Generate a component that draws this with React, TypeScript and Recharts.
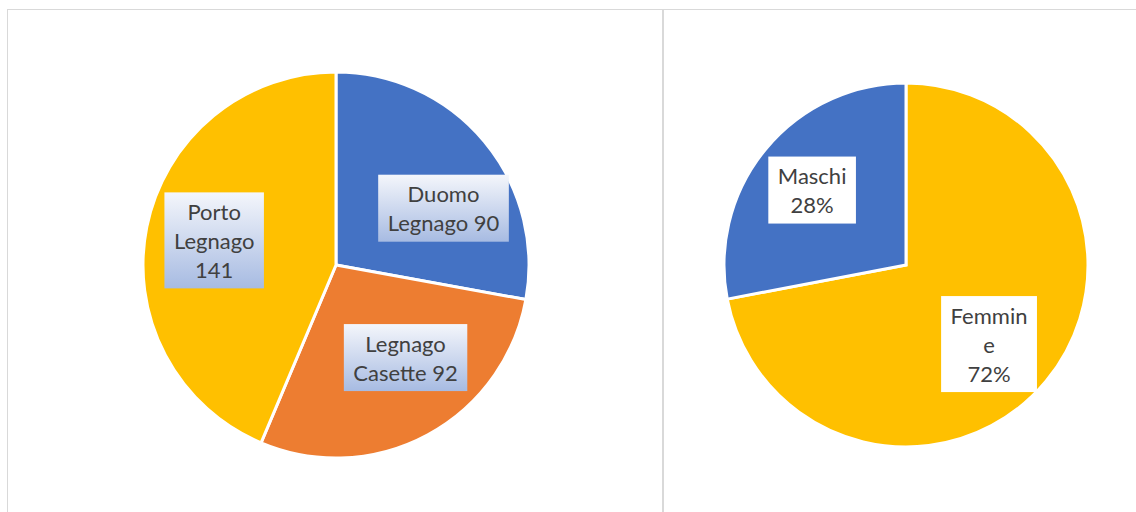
import React from "react";
import { PieChart, Pie, Cell } from "recharts";

const parishNames = ["Duomo Legnago", "Legnago Casette", "Porto Legnago"];
const parishValues = [90, 92, 141];
const parishLabelLines = [["Duomo", "Legnago 90"], ["Legnago", "Casette 92"], ["Porto", "Legnago", "141"]];
const parishColors = ["#4472C4", "#ED7D31", "#FFC000"];

const genderNames = ["Femmine", "Maschi"];
const genderValues = [72, 28];
const genderLabelLines = [["Femmin", "e", "72%"], ["Maschi", "28%"]];
const genderColors = ["#FFC000", "#4472C4"];

const FONT = "Lato, 'Open Sans', sans-serif";
const FONT_SIZE = 22;
const LINE_H = 29;

let ctx: CanvasRenderingContext2D | null = null;
function textWidth(s: string) {
  if (!ctx) {
    const c = document.createElement("canvas");
    ctx = c.getContext("2d");
  }
  if (!ctx) return s.length * 11;
  ctx.font = `${FONT_SIZE}px Lato`;
  return ctx.measureText(s).width;
}

const RAD = Math.PI / 180;

function makeLabel(lines: string[][], gradient: boolean, radiusFactor: number[], angleNudge: number[]) {
  return (props: any) => {
    const { cx, cy, midAngle, outerRadius, index } = props;
    const a = (midAngle + (angleNudge[index] || 0)) * RAD;
    const r = outerRadius * radiusFactor[index];
    const x = cx + r * Math.cos(a);
    const y = cy - r * Math.sin(a);
    const ls = lines[index];
    const w = Math.max(...ls.map(textWidth)) + 19;
    const h = ls.length * LINE_H + 9;
    return (
      <g key={`lbl-${index}`}>
        <rect
          x={x - w / 2}
          y={y - h / 2}
          width={w}
          height={h}
          fill={gradient ? "url(#lblGrad)" : "#ffffff"}
        />
        {ls.map((t, i) => (
          <text
            key={i}
            x={x}
            y={y - h / 2 + 4.5 + LINE_H * i + LINE_H / 2}
            textAnchor="middle"
            dominantBaseline="central"
            fontFamily={FONT}
            fontSize={FONT_SIZE}
            fill="#404040"
          >
            {t}
          </text>
        ))}
      </g>
    );
  };
}

const parishData = parishNames.map((n, i) => ({ name: n, value: parishValues[i] }));
const genderData = genderNames.map((n, i) => ({ name: n, value: genderValues[i] }));
const noMargin = { top: 0, right: 0, bottom: 0, left: 0 };

export default function App() {
  return (
    <div style={{ position: "fixed", left: 0, top: 0, width: 1136, height: 512, background: "#fff", overflow: "hidden" }}>
      <div
        style={{
          position: "absolute",
          left: 7,
          top: 9,
          width: 657,
          height: 520,
          borderTop: "1px solid #d9d9d9",
          borderLeft: "1px solid #d9d9d9",
          borderRight: "2px solid #d9d9d9",
          boxSizing: "border-box",
        }}
      >
        <PieChart width={652} height={510} margin={noMargin} style={{ position: "absolute", left: 0, top: 0 }}>
          <defs>
            <linearGradient id="lblGrad" x1="0" y1="0" x2="0" y2="1">
              <stop offset="0%" stopColor="#f4f6fb" />
              <stop offset="100%" stopColor="#a7bbe2" />
            </linearGradient>
          </defs>
          <Pie
            data={parishData}
            dataKey="value"
            nameKey="name"
            cx={328}
            cy={255}
            outerRadius={193}
            startAngle={90}
            endAngle={-270}
            stroke="#ffffff"
            strokeWidth={3}
            isAnimationActive={false}
            labelLine={false}
            label={makeLabel(parishLabelLines, true, [0.63, 0.6, 0.644], [-12, 8.5, 0])}
          >
            {parishData.map((d, i) => (
              <Cell key={d.name} fill={parishColors[i]} />
            ))}
          </Pie>
        </PieChart>
      </div>
      <div
        style={{
          position: "absolute",
          left: 664,
          top: 9,
          width: 480,
          height: 520,
          borderTop: "1px solid #d9d9d9",
          boxSizing: "border-box",
        }}
      >
        <PieChart width={480} height={510} margin={noMargin} style={{ position: "absolute", left: 0, top: 0 }}>
          <Pie
            data={genderData}
            dataKey="value"
            nameKey="name"
            cx={242}
            cy={255}
            outerRadius={182}
            startAngle={90}
            endAngle={-270}
            stroke="#ffffff"
            strokeWidth={3}
            isAnimationActive={false}
            labelLine={false}
            label={makeLabel(genderLabelLines, false, [0.63, 0.66], [-4, 1])}
          >
            {genderData.map((d, i) => (
              <Cell key={d.name} fill={genderColors[i]} />
            ))}
          </Pie>
        </PieChart>
      </div>
    </div>
  );
}
